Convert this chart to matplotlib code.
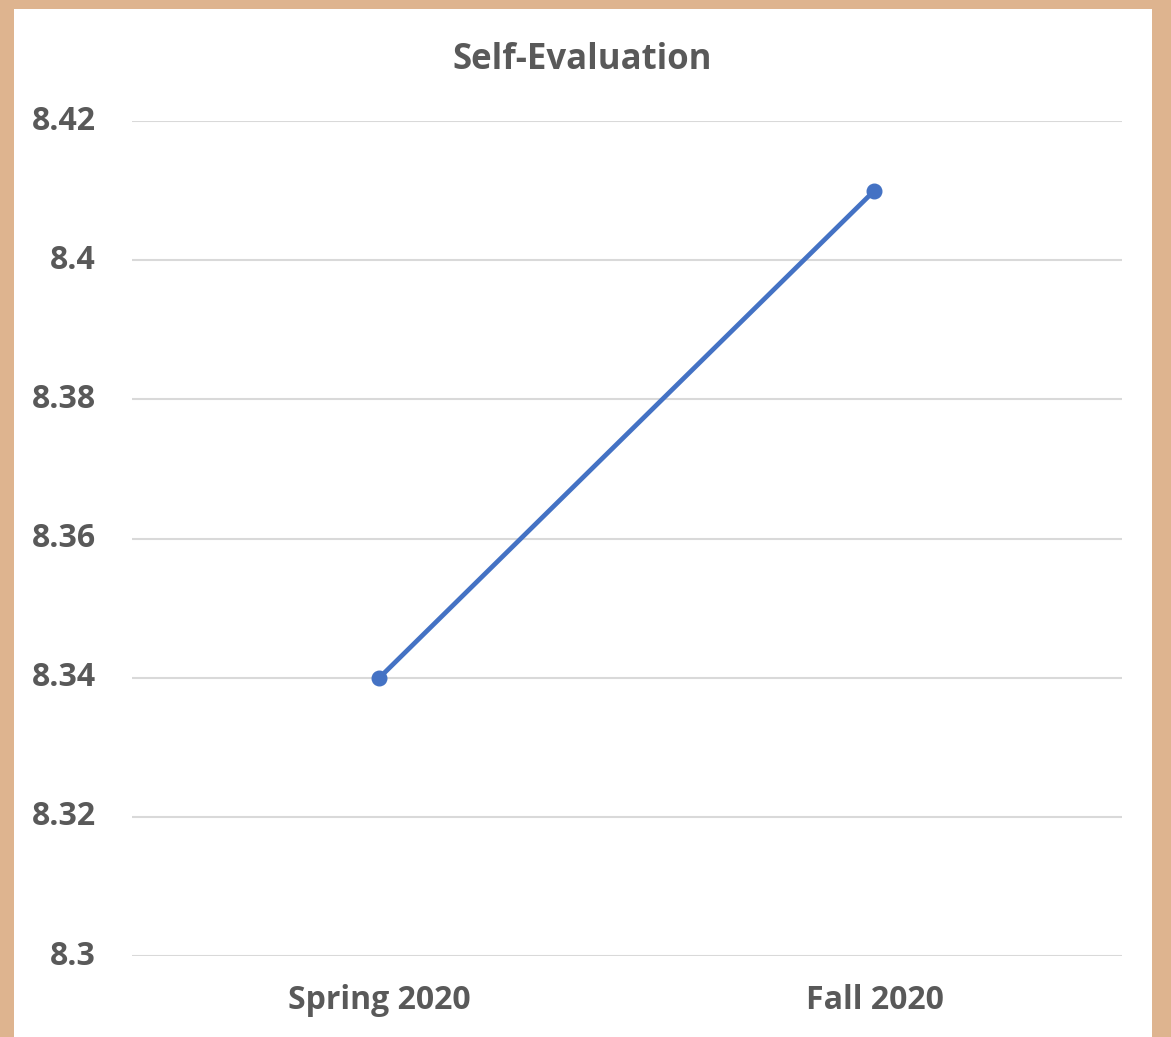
import matplotlib.pyplot as plt
import matplotlib.transforms as mtransforms
from matplotlib.patches import Rectangle
from matplotlib.ticker import FuncFormatter, MultipleLocator

semesters = ["Spring 2020", "Fall 2020"]
scores = [8.34, 8.41]

TEXT = "#595959"
plt.rcParams["font.family"] = ["Open Sans", "DejaVu Sans"]

fig = plt.figure(figsize=(11.71, 10.37), dpi=100, facecolor="#DEB48F")
# white chart area inside the tan frame
fig.patches.append(Rectangle((14 / 1171, 0), (1152 - 14) / 1171, (1037 - 9) / 1037,
                             transform=fig.transFigure, facecolor="white",
                             edgecolor="none", zorder=-5))

ax = fig.add_axes([0.1127, 0.0781, 0.8454, 0.8052], zorder=2)
ax.set_facecolor("none")
x = list(range(len(semesters)))
ax.plot(x, scores, color="#4472C4", linewidth=3.4, marker="o", markersize=10.5,
        solid_capstyle="round", zorder=3)

ax.set_xlim(-0.5, len(semesters) - 0.5)
ax.set_ylim(8.3, 8.42)
ax.yaxis.set_major_locator(MultipleLocator(0.02))
ax.yaxis.set_major_formatter(FuncFormatter(lambda v, _: f"{round(v, 2):g}"))
ax.set_xticks(x)
ax.set_xticklabels(semesters)

ax.grid(axis="y", color="#D9D9D9", linewidth=1.5)
ax.set_axisbelow(True)
for side in ax.spines.values():
    side.set_visible(False)
ax.tick_params(axis="both", length=0, labelcolor=TEXT, labelsize=23)
ax.tick_params(axis="y", pad=26)
ax.tick_params(axis="x", pad=20)
for lab in ax.get_xticklabels() + ax.get_yticklabels():
    lab.set_fontweight("bold")
# nudge y labels up a little so they sit centred on the gridlines
lift = mtransforms.ScaledTranslation(0, 4 / 100, fig.dpi_scale_trans)
for lab in ax.get_yticklabels():
    lab.set_transform(lab.get_transform() + lift)

fig.text(0.497, 1 - 60 / 1037, "Self-Evaluation", ha="center", va="center",
         fontsize=25, fontweight="bold", color=TEXT, zorder=3)

fig.savefig("out.png", dpi=100, facecolor=fig.get_facecolor())
